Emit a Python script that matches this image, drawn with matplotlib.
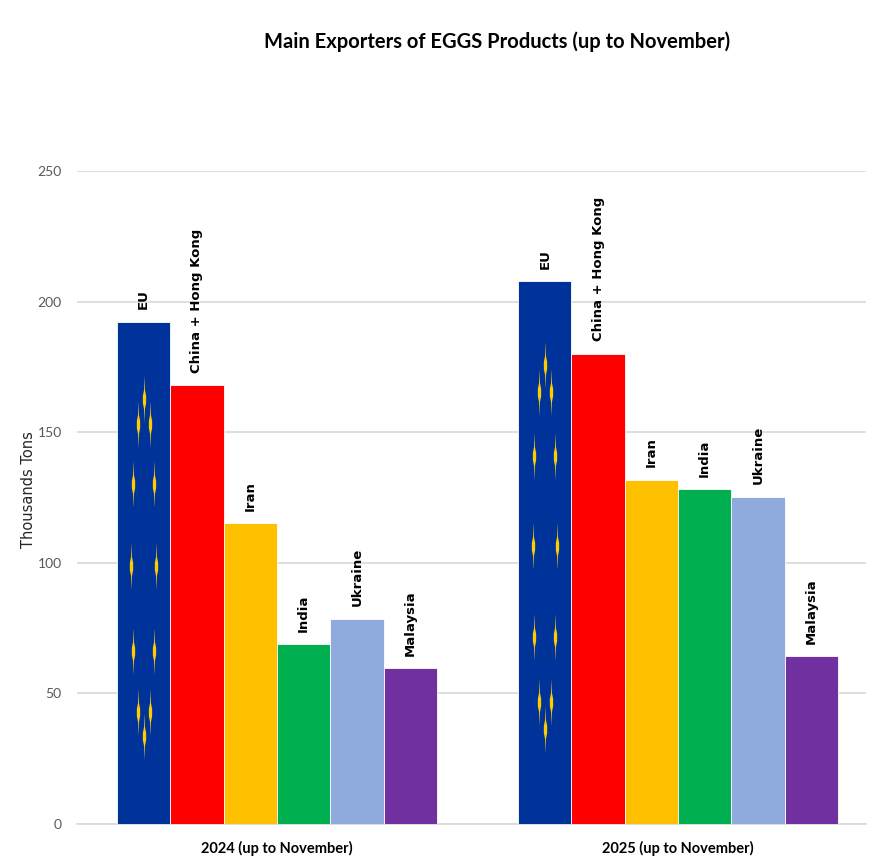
import matplotlib
matplotlib.use("Agg")
import matplotlib.pyplot as plt
from matplotlib.path import Path

periods = ["2024 (up to November)", "2025 (up to November)"]
countries = ["EU", "China + Hong Kong", "Iran", "India", "Ukraine", "Malaysia"]
values_2024 = [192.2, 168.0, 115.2, 68.9, 78.5, 59.7]
values_2025 = [207.7, 180.0, 131.7, 128.2, 125.2, 64.3]
colors = ["#003399", "#FF0000", "#FFC000", "#00B050", "#8FAADC", "#7030A0"]

# EU flag stars, as fractions of the EU bar (offset from centre, height)
star_dx = [0.0, -0.11, 0.11, -0.2, 0.2, -0.23, 0.23, -0.2, 0.2, -0.11, 0.11, 0.0]
star_h = [0.846, 0.797, 0.797, 0.678, 0.678, 0.513, 0.513, 0.344, 0.344, 0.224, 0.224, 0.175]

# spindle shape, the stars are stretched thin in the original picture
star_marker = Path([(0, -1), (0.02, -0.4), (0.07, -0.15), (0.07, 0.15), (0.02, 0.4), (0, 1),
                    (-0.02, 0.4), (-0.07, 0.15), (-0.07, -0.15), (-0.02, -0.4), (0, -1)])

fig = plt.figure(figsize=(8.88, 8.68), dpi=100)
ax = fig.add_axes([77 / 888, 1 - 824 / 868, (866 - 77) / 888, (824 - 171) / 868])

bar_w = 1.0
gap = 401 / 53.3  # distance between the two groups in bar widths
for g, vals in enumerate([values_2024, values_2025]):
    x0 = g * gap
    for i, v in enumerate(vals):
        x = x0 + i - 2.5
        ax.bar(x, v, width=bar_w, color=colors[i], edgecolor="white", linewidth=0.6, zorder=3)
        ax.annotate(countries[i], (x, v), xytext=(0, 9), textcoords="offset points",
                    rotation=90, ha="center", va="bottom", fontsize=9.5,
                    fontweight="bold", color="black", family="DejaVu Sans", zorder=4)
    for dx, h in zip(star_dx, star_h):
        ax.plot(x0 - 2.5 + dx, vals[0] * h, marker=star_marker, ms=34, color="#FFCC00",
                mew=0, ls="none", zorder=4)

ax.set_xlim(-2.5 - 40 / 53.3 - 0.5, gap + 2.5 + 28 / 53.3 + 0.5)
ax.set_ylim(0, 250)
ax.set_yticks([0, 50, 100, 150, 200, 250])
ax.set_xticks([0, gap])
ax.set_xticklabels(periods, family="Lato", fontweight="bold", fontsize=10.5, color="black")
ax.tick_params(axis="both", length=0)
ax.tick_params(axis="x", pad=12)
ax.tick_params(axis="y", labelsize=10, labelcolor="#595959", pad=11)
for lab in ax.get_yticklabels():
    lab.set_family("Lato")
ax.grid(axis="y", color="#D9D9D9", linewidth=1.2, zorder=0)
ax.set_axisbelow(True)
for side in ["top", "right", "left"]:
    ax.spines[side].set_visible(False)
ax.spines["bottom"].set_color("#D9D9D9")
ax.spines["bottom"].set_linewidth(1.2)
ax.set_ylabel("Thousands Tons", fontsize=10.5, color="#262626", family="DejaVu Sans")
ax.yaxis.set_label_coords((36 - 77) / 789, (824 - 490) / 653)

fig.text(497 / 888, 1 - 42 / 868, "Main Exporters of EGGS Products (up to November)",
         ha="center", va="center", family="Lato", fontweight="bold", fontsize=14.5, color="black")

fig.savefig("out.png", dpi=100)
